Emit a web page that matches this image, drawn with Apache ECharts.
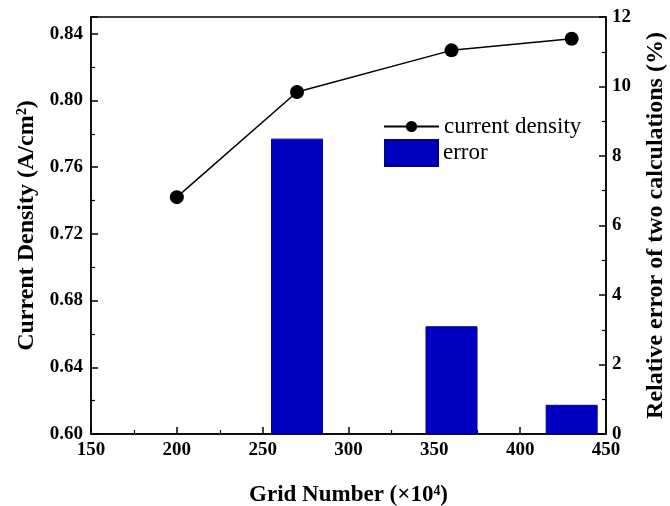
<!DOCTYPE html>
<html>
<head>
<meta charset="utf-8">
<script src="https://cdn.jsdelivr.net/npm/echarts@6/dist/echarts.min.js"></script>
<style>
  html, body { margin: 0; padding: 0; background: #fff; }
  #chart { width: 670px; height: 506px; }
</style>
</head>
<body>
<div id="chart"></div>
<script>
// data
const gridNumber = [200, 270, 360, 430];
const currentDensity = [0.742, 0.805, 0.830, 0.837];
const errorGrid = [270, 360, 430];
const relativeError = [8.5, 3.1, 0.84];

const FONT = "'Liberation Serif', 'Times New Roman', serif";

const chart = echarts.init(document.getElementById("chart"));

const tickLabel = { color: "#000", fontFamily: FONT, fontWeight: "bold", fontSize: 19 };
const nameStyle = { color: "#000", fontFamily: FONT, fontWeight: "bold", fontSize: 24 };
const legendText = { color: "#000", fontFamily: FONT, fontSize: 23 };
const majorTick = { inside: true, length: 7, lineStyle: { color: "#000", width: 1.5 } };
const minorTick = { show: true, splitNumber: 2, length: 4, lineStyle: { color: "#000", width: 1.2 } };

const option = {
  animation: false,
  grid: {
    left: 91, right: 64, top: 17, bottom: 72,
    outerBoundsMode: "none",
    containLabel: false,
    show: true, borderColor: "#000", borderWidth: 1.5
  },
  legend: [
    {
      data: ["current density"],
      left: 378, top: 110,
      itemWidth: 55, itemHeight: 14,
      textStyle: legendText
    },
    {
      data: [{ name: "error", icon: "rect" }],
      left: 379, top: 134,
      itemWidth: 53, itemHeight: 26,
      textStyle: legendText
    }
  ],
  xAxis: {
    type: "value",
    min: 150, max: 450, interval: 50,
    name: "Grid Number (×10⁴)",
    nameLocation: "middle", nameGap: 50,
    nameTextStyle: Object.assign({}, nameStyle, { fontSize: 23 }),
    axisLine: { lineStyle: { color: "#000", width: 1.5 } },
    axisTick: majorTick,
    minorTick: minorTick,
    axisLabel: Object.assign({ margin: 7 }, tickLabel),
    splitLine: { show: false }
  },
  yAxis: [
    {
      type: "value",
      min: 0.6, max: 0.85, interval: 0.04,
      name: "Current Density (A/cm²)",
      nameLocation: "middle", nameGap: 52,
      nameTextStyle: nameStyle,
      axisLine: { show: true, lineStyle: { color: "#000", width: 1.5 } },
      axisTick: majorTick,
      minorTick: minorTick,
      axisLabel: Object.assign({ margin: 8, showMaxLabel: false, formatter: v => v.toFixed(2) }, tickLabel),
      splitLine: { show: false }
    },
    {
      type: "value",
      position: "right",
      min: 0, max: 12, interval: 2,
      name: "Relative error of two calculations (%)",
      nameLocation: "middle", nameGap: 38,
      nameTextStyle: nameStyle,
      axisLine: { show: true, lineStyle: { color: "#000", width: 1.5 } },
      axisTick: majorTick,
      minorTick: minorTick,
      axisLabel: Object.assign({ margin: 6 }, tickLabel),
      splitLine: { show: false }
    }
  ],
  series: [
    {
      name: "error",
      type: "bar",
      yAxisIndex: 1,
      barWidth: 52,
      itemStyle: { color: "#0000c0", borderColor: "#00008b", borderWidth: 1 },
      data: errorGrid.map((x, i) => [x, relativeError[i]]),
      z: 1
    },
    {
      name: "current density",
      type: "line",
      yAxisIndex: 0,
      symbol: "circle",
      symbolSize: 14,
      itemStyle: { color: "#000" },
      lineStyle: { color: "#000", width: 1.5 },
      data: gridNumber.map((x, i) => [x, currentDensity[i]]),
      z: 3
    }
  ]
};

chart.setOption(option);
</script>
</body>
</html>
